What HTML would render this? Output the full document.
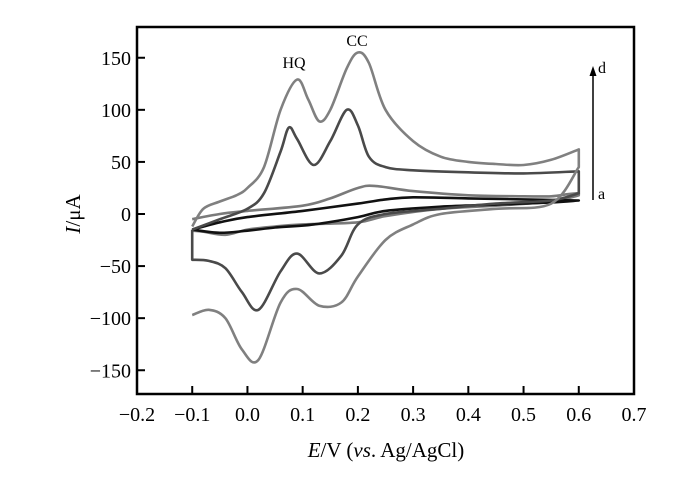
<!DOCTYPE html>
<html><head><meta charset="utf-8">
<style>
body{margin:0;background:#fff;}
svg{display:block;font-family:"Liberation Serif",serif;}
</style></head>
<body>
<svg id="chart" width="700" height="481" viewBox="0 0 700 481" xmlns="http://www.w3.org/2000/svg">
<g id="plot"></g>
</svg>
<script>
const xTicks=[-0.2,-0.1,0.0,0.1,0.2,0.3,0.4,0.5,0.6,0.7];
const xTickLabels=["\u22120.2","\u22120.1","0.0","0.1","0.2","0.3","0.4","0.5","0.6","0.7"];
const yTicks=[-150,-100,-50,0,50,100,150];
const yTickLabels=["\u2212150","\u2212100","\u221250","0","50","100","150"];
const curveA_E=[-0.1,-0.05,0.0,0.1,0.2,0.25,0.3,0.4,0.5,0.6,0.6,0.55,0.45,0.35,0.25,0.2,0.12,0.05,0.0,-0.05,-0.1];
const curveA_I=[-15,-8,-3,3,10,14,16,15,14,13,13,11,9,7,3,-3,-10,-13,-16,-18,-15];
const curveB_E=[-0.1,-0.05,0.0,0.1,0.15,0.2,0.23,0.3,0.4,0.5,0.55,0.58,0.6,0.6,0.55,0.45,0.35,0.25,0.2,0.1,0.05,0.0,-0.04,-0.08,-0.1];
const curveB_I=[-5,0,3,8,15,25,27,22,18,17,17,19,20,18,12,8,5,-2,-8,-10,-12,-15,-20,-17,-16];
const curveC_E=[-0.1,-0.05,0.0,0.03,0.06,0.075,0.09,0.12,0.15,0.18,0.2,0.22,0.25,0.3,0.4,0.5,0.6,0.6,0.55,0.45,0.35,0.25,0.2,0.17,0.13,0.09,0.06,0.02,-0.01,-0.04,-0.07,-0.1,-0.1];
const curveC_I=[-15,-5,5,20,60,83,72,47,70,100,85,55,45,42,40,39,41,20,13,10,5,0,-10,-40,-57,-38,-55,-92,-75,-52,-45,-44,-15];
const curveD_E=[-0.1,-0.08,-0.05,-0.02,0.0,0.03,0.06,0.09,0.11,0.13,0.15,0.18,0.2,0.22,0.25,0.3,0.35,0.4,0.45,0.5,0.55,0.6,0.6,0.55,0.45,0.35,0.3,0.25,0.2,0.17,0.13,0.09,0.06,0.02,-0.01,-0.04,-0.07,-0.1];
const curveD_I=[-12,5,12,18,25,45,100,129,110,89,100,140,155,145,100,70,55,50,48,47,52,62,45,10,5,0,-10,-25,-60,-85,-88,-72,-85,-140,-130,-100,-92,-97];

const L=137,R=634,T=27,B=394;
const xs=e=>L+(e+0.2)/0.9*(R-L);
const ys=i=>214-i*(370-57.5)/300;
const NS="http://www.w3.org/2000/svg";
const g=document.getElementById('plot');
function mk(tag,at,parent){const el=document.createElementNS(NS,tag);for(const k in at)el.setAttribute(k,at[k]);(parent||g).appendChild(el);return el;}
function spline(p){
  let d="";
  for(let k=0;k<p.length-1;k++){
    const p0=p[k-1]||p[k],p1=p[k],p2=p[k+1],p3=p[k+2]||p2;
    const t=1/6;
    const c1=[p1[0]+(p2[0]-p0[0])*t,p1[1]+(p2[1]-p0[1])*t];
    const c2=[p2[0]-(p3[0]-p1[0])*t,p2[1]-(p3[1]-p1[1])*t];
    d+=" C"+c1.map(v=>v.toFixed(1))+" "+c2.map(v=>v.toFixed(1))+" "+p2.map(v=>v.toFixed(1));
  }
  return d;
}
function path(E,I){
  const p=E.map((e,k)=>[xs(e),ys(I[k])]);
  // split into segments at vertical jumps (same E consecutive)
  const segs=[];let cur=[p[0]];
  for(let k=1;k<p.length;k++){
    if(E[k]===E[k-1]){segs.push(cur);cur=[p[k]];}
    else cur.push(p[k]);
  }
  segs.push(cur);
  let d="M"+p[0][0].toFixed(1)+","+p[0][1].toFixed(1);
  segs.forEach((s,i)=>{
    if(i>0)d+=" L"+s[0][0].toFixed(1)+","+s[0][1].toFixed(1);
    d+=spline(s);
  });
  return d;
}
const series=[["curve-b",curveB_E,curveB_I,"#7a7a7a"],["curve-a",curveA_E,curveA_I,"#111"],["curve-c",curveC_E,curveC_I,"#4a4a4a"],["curve-d",curveD_E,curveD_I,"#808080"]];
series.forEach(s=>{
  const el=mk('path',{d:path(s[1],s[2]),fill:"none",stroke:s[3],"stroke-width":2.6,"stroke-linejoin":"round"});
  
  
});
const frame=mk('rect',{x:L,y:T,width:R-L,height:B-T,fill:"none",stroke:"#000","stroke-width":2.5});


xTicks.forEach((v,k)=>{
  const x=xs(v);
  const t=mk('line',{x1:x,x2:x,y1:B,y2:B-8,stroke:"#000","stroke-width":2});
  
  
  const lb=mk('text',{x:x,y:B+27,"text-anchor":"middle","font-size":20});
  lb.textContent=xTickLabels[k];
  
  
});
yTicks.forEach((v,k)=>{
  const y=ys(v);
  const t=mk('line',{x1:L,x2:L+8,y1:y,y2:y,stroke:"#000","stroke-width":2});
  
  
  const lb=mk('text',{x:L-6,y:y+7,"text-anchor":"end","font-size":20});
  lb.textContent=yTickLabels[k];
  
  
});
</script>
<svg style="position:absolute;left:0;top:0" width="700" height="481">
<text x="294" y="68" text-anchor="middle" font-size="16" font-family="Liberation Serif,serif">HQ</text>
<text x="357" y="46" text-anchor="middle" font-size="16" font-family="Liberation Serif,serif">CC</text>
<line x1="593" y1="200" x2="593" y2="74" stroke="#000" stroke-width="1.5"/>
<polygon points="593,66 589.5,76 596.5,76" fill="#000"/>
<text x="598" y="73" font-size="16" font-family="Liberation Serif,serif">d</text>
<text x="598" y="199" font-size="16" font-family="Liberation Serif,serif">a</text>
<text transform="translate(80,214) rotate(-90)" text-anchor="middle" font-size="21" font-family="Liberation Serif,serif"><tspan font-style="italic">I</tspan>/μA</text>
<text x="386" y="457" text-anchor="middle" font-size="21" font-family="Liberation Serif,serif"><tspan font-style="italic">E</tspan>/V (<tspan font-style="italic">vs</tspan>. Ag/AgCl)</text>
</svg>
</body></html>
